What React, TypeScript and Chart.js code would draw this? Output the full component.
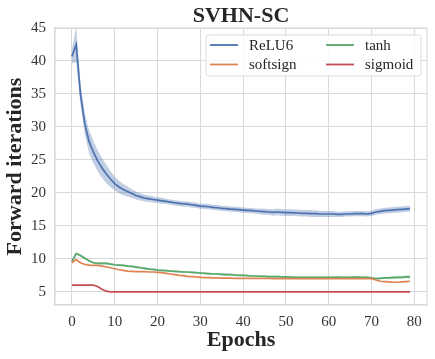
import React, { useEffect, useRef } from "react";
import { Chart, registerables } from "chart.js";
Chart.register(...registerables);

const title = "SVHN-SC";
const xLabel = "Epochs";
const yLabel = "Forward iterations";
const xTicks = [0, 10, 20, 30, 40, 50, 60, 70, 80];
const yTicks = [5, 10, 15, 20, 25, 30, 35, 40, 45];
const epochs = Array.from({ length: 80 }, (_, i) => i);

const relu6 = [
  40.7, 42.5, 35.0, 30.5, 27.8, 26.2, 24.9, 23.8, 22.9, 22.1,
  21.4, 20.9, 20.5, 20.2, 19.9, 19.6, 19.4, 19.2, 19.1, 19.0,
  18.9, 18.8, 18.7, 18.6, 18.5, 18.4, 18.35, 18.3, 18.2, 18.1,
  18.0, 17.95, 17.9, 17.8, 17.75, 17.65, 17.6, 17.55, 17.5, 17.45,
  17.4, 17.35, 17.3, 17.25, 17.2, 17.15, 17.1, 17.05, 17.1, 17.05,
  17.0, 17.0, 16.98, 16.95, 16.9, 16.9, 16.85, 16.85, 16.8, 16.8,
  16.8, 16.8, 16.75, 16.75, 16.8, 16.8, 16.85, 16.85, 16.85, 16.8,
  16.9, 17.1, 17.2, 17.3, 17.35, 17.4, 17.45, 17.5, 17.55, 17.6,
];
const relu6Spread = [
  1.1, 2.7, 1.6, 1.6, 1.7, 1.7, 1.6, 1.5, 1.4, 1.2,
  1.05, 0.95, 0.85, 0.75, 0.65, 0.6, 0.55, 0.5, 0.5, 0.45,
  0.45, 0.45, 0.4, 0.4, 0.4, 0.4, 0.4, 0.4, 0.4, 0.4,
  0.4, 0.4, 0.4, 0.4, 0.4, 0.4, 0.4, 0.4, 0.4, 0.4,
  0.4, 0.4, 0.4, 0.4, 0.45, 0.45, 0.45, 0.5, 0.5, 0.5,
  0.5, 0.5, 0.5, 0.5, 0.5, 0.5, 0.5, 0.5, 0.45, 0.45,
  0.45, 0.45, 0.4, 0.4, 0.4, 0.4, 0.4, 0.4, 0.4, 0.4,
  0.4, 0.45, 0.45, 0.45, 0.45, 0.45, 0.45, 0.45, 0.45, 0.45,
];
const tanh = [
  9.6, 10.8, 10.5, 10.1, 9.7, 9.4, 9.3, 9.3, 9.3, 9.2,
  9.1, 9.05, 9.0, 8.9, 8.85, 8.75, 8.65, 8.55, 8.45, 8.4,
  8.3, 8.25, 8.2, 8.15, 8.1, 8.05, 8.0, 8.0, 7.95, 7.9,
  7.85, 7.8, 7.75, 7.7, 7.7, 7.65, 7.6, 7.6, 7.55, 7.5,
  7.5, 7.45, 7.4, 7.4, 7.35, 7.35, 7.3, 7.3, 7.3, 7.25,
  7.25, 7.22, 7.2, 7.2, 7.2, 7.2, 7.2, 7.18, 7.2, 7.2,
  7.2, 7.2, 7.22, 7.2, 7.2, 7.2, 7.22, 7.22, 7.2, 7.2,
  7.1, 7.0, 7.05, 7.1, 7.1, 7.15, 7.2, 7.2, 7.25, 7.25,
];
const tanhSpread = [
  0.15, 0.2, 0.2, 0.15, 0.15, 0.15, 0.15, 0.2, 0.2, 0.15,
  0.15, 0.15, 0.15, 0.15, 0.15, 0.2, 0.2, 0.2, 0.2, 0.15,
  0.15, 0.15, 0.15, 0.15, 0.15, 0.15, 0.15, 0.15, 0.15, 0.15,
  0.15, 0.15, 0.15, 0.15, 0.2, 0.2, 0.2, 0.2, 0.2, 0.15,
  0.15, 0.15, 0.15, 0.15, 0.15, 0.15, 0.15, 0.15, 0.15, 0.15,
  0.15, 0.15, 0.15, 0.15, 0.15, 0.15, 0.15, 0.15, 0.15, 0.15,
  0.15, 0.15, 0.15, 0.15, 0.15, 0.15, 0.15, 0.15, 0.15, 0.15,
  0.15, 0.15, 0.15, 0.15, 0.2, 0.25, 0.25, 0.25, 0.25, 0.25,
];
const softsign = [
  9.4, 9.9, 9.4, 9.15, 9.05, 9.0, 9.0, 8.9, 8.8, 8.65,
  8.5, 8.35, 8.25, 8.15, 8.1, 8.05, 8.05, 8.05, 8.0, 8.0,
  7.95, 7.9, 7.8, 7.7, 7.6, 7.5, 7.45, 7.35, 7.3, 7.25,
  7.2, 7.15, 7.15, 7.1, 7.1, 7.08, 7.07, 7.06, 7.05, 7.05,
  7.05, 7.04, 7.03, 7.03, 7.02, 7.02, 7.02, 7.01, 7.01, 7.0,
  7.0, 7.0, 7.0, 7.0, 7.0, 7.0, 7.0, 7.0, 7.0, 7.0,
  7.0, 7.0, 7.0, 7.0, 7.0, 7.0, 7.0, 7.0, 7.0, 7.0,
  7.0, 6.8, 6.6, 6.55, 6.5, 6.45, 6.45, 6.5, 6.55, 6.6,
];
const sigmoid = [
  6.0, 6.0, 6.0, 6.0, 6.0, 6.0, 5.8, 5.4, 5.1, 5.0,
  5.0, 5.0, 5.0, 5.0, 5.0, 5.0, 5.0, 5.0, 5.0, 5.0,
  5.0, 5.0, 5.0, 5.0, 5.0, 5.0, 5.0, 5.0, 5.0, 5.0,
  5.0, 5.0, 5.0, 5.0, 5.0, 5.0, 5.0, 5.0, 5.0, 5.0,
  5.0, 5.0, 5.0, 5.0, 5.0, 5.0, 5.0, 5.0, 5.0, 5.0,
  5.0, 5.0, 5.0, 5.0, 5.0, 5.0, 5.0, 5.0, 5.0, 5.0,
  5.0, 5.0, 5.0, 5.0, 5.0, 5.0, 5.0, 5.0, 5.0, 5.0,
  5.0, 5.0, 5.0, 5.0, 5.0, 5.0, 5.0, 5.0, 5.0, 5.0,
];

const BLUE = "#4C72B0";
const ORANGE = "#DD8452";
const GREEN = "#55A868";
const RED = "#C44E52";
const SERIF = "'Liberation Serif', 'DejaVu Serif', serif";
const TEXT = "#262626";
const GRID = "#d9d9d9";

const legendItems = [
  { label: "ReLU6", color: BLUE, col: 0, row: 0 },
  { label: "softsign", color: ORANGE, col: 0, row: 1 },
  { label: "tanh", color: GREEN, col: 1, row: 0 },
  { label: "sigmoid", color: RED, col: 1, row: 1 },
];

const pts = (arr: number[]) => epochs.map((e, i) => ({ x: e, y: arr[i] }));
const ptsOff = (arr: number[], sp: number[], s: number) =>
  epochs.map((e, i) => ({ x: e, y: arr[i] + s * sp[i] }));

const overlayPlugin = {
  id: "overlay",
  beforeDatasetsDraw(chart: any) {
    const ctx = chart.ctx;
    const ca = chart.chartArea;
    ctx.save();
    ctx.strokeStyle = GRID;
    ctx.lineWidth = 1.2;
    ctx.strokeRect(ca.left, ca.top, ca.right - ca.left, ca.bottom - ca.top);
    ctx.restore();
  },
  afterDraw(chart: any) {
    const ctx = chart.ctx;
    const ca = chart.chartArea;
    ctx.save();
    // title
    ctx.fillStyle = TEXT;
    ctx.font = `bold 22px ${SERIF}`;
    ctx.textAlign = "center";
    ctx.textBaseline = "alphabetic";
    ctx.fillText(title, (ca.left + ca.right) / 2, 22);
    // legend
    const bx = 206, by = 35, bw = 215, bh = 41, r = 3;
    ctx.beginPath();
    ctx.moveTo(bx + r, by);
    ctx.lineTo(bx + bw - r, by);
    ctx.quadraticCurveTo(bx + bw, by, bx + bw, by + r);
    ctx.lineTo(bx + bw, by + bh - r);
    ctx.quadraticCurveTo(bx + bw, by + bh, bx + bw - r, by + bh);
    ctx.lineTo(bx + r, by + bh);
    ctx.quadraticCurveTo(bx, by + bh, bx, by + bh - r);
    ctx.lineTo(bx, by + r);
    ctx.quadraticCurveTo(bx, by, bx + r, by);
    ctx.closePath();
    ctx.fillStyle = "rgba(255,255,255,0.85)";
    ctx.fill();
    ctx.strokeStyle = "#dcdcdc";
    ctx.lineWidth = 1;
    ctx.stroke();
    ctx.font = `15px ${SERIF}`;
    ctx.textAlign = "left";
    ctx.textBaseline = "middle";
    for (const it of legendItems) {
      const lx = it.col === 0 ? 210 : 326;
      const ly = it.row === 0 ? 45 : 64.5;
      ctx.strokeStyle = it.color;
      ctx.lineWidth = 1.8;
      ctx.beginPath();
      ctx.moveTo(lx, ly);
      ctx.lineTo(lx + 28, ly);
      ctx.stroke();
      ctx.fillStyle = TEXT;
      ctx.fillText(it.label, lx + 39, ly + 1);
    }
    ctx.restore();
  },
};

export default function App() {
  const ref = useRef<HTMLCanvasElement | null>(null);
  useEffect(() => {
    if (!ref.current) return;
    const line = (label: string, data: number[], color: string, order: number) => ({
      label,
      data: pts(data),
      borderColor: color,
      backgroundColor: color,
      borderWidth: 1.7,
      pointRadius: 0,
      fill: false,
      order,
    });
    const band = (data: number[], sp: number[], color: string, order: number) => [
      {
        label: "_lo",
        data: ptsOff(data, sp, -1),
        borderWidth: 0,
        borderColor: "rgba(0,0,0,0)",
        pointRadius: 0,
        fill: false,
        order,
      },
      {
        label: "_hi",
        data: ptsOff(data, sp, 1),
        borderWidth: 0,
        borderColor: "rgba(0,0,0,0)",
        backgroundColor: color,
        pointRadius: 0,
        fill: "-1",
        order,
      },
    ];
    const chart = new Chart(ref.current, {
      type: "line",
      data: {
        datasets: [
          ...band(relu6, relu6Spread, "rgba(76,114,176,0.35)", 10),
          ...band(tanh, tanhSpread, "rgba(85,168,104,0.25)", 10),
          line("sigmoid", sigmoid, RED, 4),
          line("tanh", tanh, GREEN, 3),
          line("softsign", softsign, ORANGE, 2),
          line("ReLU6", relu6, BLUE, 1),
        ] as any,
      },
      options: {
        animation: false,
        responsive: true,
        maintainAspectRatio: false,
        layout: { padding: { top: 28, right: 8, left: 0, bottom: 0 } },
        plugins: {
          legend: { display: false },
          title: { display: false },
          tooltip: { enabled: false },
        },
        elements: { line: { tension: 0 } },
        scales: {
          x: {
            type: "linear",
            min: -3.95,
            max: 82.95,
            afterBuildTicks: (s: any) => {
              s.ticks = xTicks.map((v) => ({ value: v }));
            },
            afterFit: (s: any) => {
              s.height = 54;
            },
            grid: { color: GRID, lineWidth: 1, drawTicks: false },
            border: { color: GRID, width: 1.2 },
            ticks: {
              padding: 8,
              color: "#333",
              font: { family: SERIF, size: 15 },
              maxRotation: 0,
            },
            title: {
              display: true,
              text: xLabel,
              color: TEXT,
              font: { family: SERIF, size: 22, weight: "bold", lineHeight: 1.2 },
              padding: { top: 0, bottom: 5 },
            },
          },
          y: {
            type: "linear",
            min: 3,
            max: 45,
            afterBuildTicks: (s: any) => {
              s.ticks = yTicks.map((v) => ({ value: v }));
            },
            afterFit: (s: any) => {
              s.width = 55;
            },
            grid: { color: GRID, lineWidth: 1, drawTicks: false },
            border: { color: GRID, width: 1.2 },
            ticks: {
              padding: 9,
              color: "#333",
              font: { family: SERIF, size: 15 },
            },
            title: {
              display: true,
              text: yLabel,
              color: TEXT,
              font: { family: SERIF, size: 22, weight: "bold", lineHeight: 1.2 },
              padding: { top: 2, bottom: 0 },
            },
          },
        },
      },
      plugins: [overlayPlugin],
    });
    return () => chart.destroy();
  }, []);
  return (
    <div style={{ position: "fixed", left: 0, top: 0, width: 435, height: 359, background: "#fff" }}>
      <canvas ref={ref} />
    </div>
  );
}
